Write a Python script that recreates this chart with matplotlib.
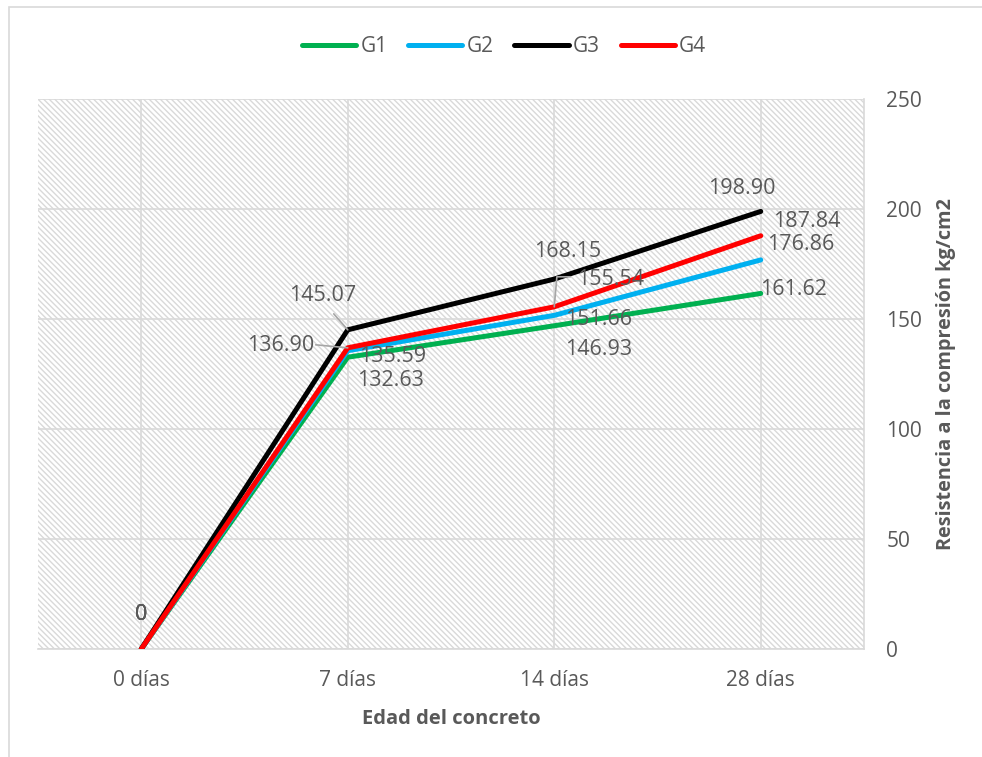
import matplotlib.pyplot as plt
import matplotlib.patches as mpatches
from matplotlib.lines import Line2D

plt.rcParams['font.family'] = ['Open Sans', 'DejaVu Sans']
plt.rcParams['hatch.color'] = '#d9d9d9'
plt.rcParams['hatch.linewidth'] = 1.0

edades = ['0 días', '7 días', '14 días', '28 días']
g1 = [0, 132.63, 146.93, 161.62]
g2 = [0, 135.59, 151.66, 176.86]
g3 = [0, 145.07, 168.15, 198.90]
g4 = [0, 136.90, 155.54, 187.84]
series = {'G1': g1, 'G2': g2, 'G3': g3, 'G4': g4}
colores = {'G1': '#00b050', 'G2': '#00b0f0', 'G3': '#000000', 'G4': '#ff0000'}

# label offsets in pixels (dx right, dy up) from each point
offs = {
    'G1': [(0, 34), (43, -23), (44, -24), (33, 4)],
    'G2': [(0, 34), (45, -6), (44, -4), (40, 15)],
    'G3': [(0, 34), (-25, 34), (13, 28), (-19, 23)],
    'G4': [(0, 34), (-67, 2), (56, 27), (46, 14)],
}

gris = '#595959'
fig = plt.figure(figsize=(9.82, 7.57), dpi=100)
# outer chart border (only top/left visible in the crop)
fig.patches.append(mpatches.Rectangle((9 / 982, -0.1), 1.2, 1 - 7 / 757 + 0.1,
                                      transform=fig.transFigure, fill=False,
                                      edgecolor='#d9d9d9', lw=1.2))
ax = fig.add_axes([38 / 982, 1 - 649 / 757, 826 / 982, 550 / 757])
ax.add_patch(mpatches.Rectangle((0, 0), 1, 1, transform=ax.transAxes,
                                facecolor='white', hatch='\\\\\\\\\\\\',
                                edgecolor='#d9d9d9', lw=0, zorder=0))
ax.set_facecolor('white')

x = list(range(len(edades)))
for nombre, vals in series.items():
    ax.plot(x, vals, color=colores[nombre], lw=3.6, zorder=3, solid_capstyle='round')

k = 0.72
for nombre, vals in series.items():
    for i, v in enumerate(vals):
        dx, dy = offs[nombre][i]
        txt = '0' if v == 0 else f'{v:.2f}'
        ax.annotate(txt, (i, v), xytext=(dx * k, dy * k), textcoords='offset points',
                    ha='center', va='center', fontsize=15.5, color=gris, zorder=5)

# leader lines
ax.annotate('', (1, g3[1]), xytext=(-14 * k, 16 * k), textcoords='offset points',
            arrowprops=dict(arrowstyle='-', color='#a6a6a6', lw=1.2, shrinkA=0, shrinkB=0))
ax.annotate('', (1, g4[1]), xytext=(-32 * k, 3 * k), textcoords='offset points',
            arrowprops=dict(arrowstyle='-', color='#a6a6a6', lw=1.2, shrinkA=0, shrinkB=0))
ax.annotate('', (2, g4[2]), xytext=(16 * k, 30 * k), textcoords='offset points',
            arrowprops=dict(arrowstyle='-', color='#a6a6a6', lw=1.2, shrinkA=0, shrinkB=0,
                            connectionstyle='angle,angleA=0,angleB=85,rad=0'))

ax.set_xlim(-0.5, 3.5)
ax.set_ylim(0, 250)
ax.set_yticks(range(0, 251, 50))
ax.set_xticks(x)
ax.set_xticklabels(edades)
ax.yaxis.tick_right()
ax.yaxis.set_label_position('right')
ax.tick_params(axis='both', length=0, labelsize=15, labelcolor=gris)
ax.tick_params(axis='y', pad=16)
for lab in ax.get_yticklabels():
    lab.set_ha('left')
ax.tick_params(axis='x', pad=15)
ax.grid(True, color='#d9d9d9', lw=1.2, zorder=1)
ax.set_axisbelow(True)
for s in ['top', 'left']:
    ax.spines[s].set_visible(False)
ax.spines['right'].set_color('#d9d9d9')
ax.spines['bottom'].set_color('#d9d9d9')
ax.spines['right'].set_linewidth(1.2)
ax.spines['bottom'].set_linewidth(1.2)

ax.set_xlabel('Edad del concreto', fontsize=14.5, fontweight='bold', color=gris, labelpad=13)
ax.set_ylabel('Resistencia a la compresión kg/cm2', fontsize=14.3, fontweight='bold',
              color=gris, labelpad=10)

handles = [Line2D([0], [0], color=colores[n], lw=3.6, solid_capstyle='round') for n in series]
fig.legend(handles, list(series.keys()), loc='center', bbox_to_anchor=(504 / 982, 1 - 47 / 757),
           ncol=4, frameon=False, fontsize=15, labelcolor=gris, handlelength=2.6,
           handletextpad=0.2, columnspacing=1.0)

fig.savefig('out.png', dpi=100)
